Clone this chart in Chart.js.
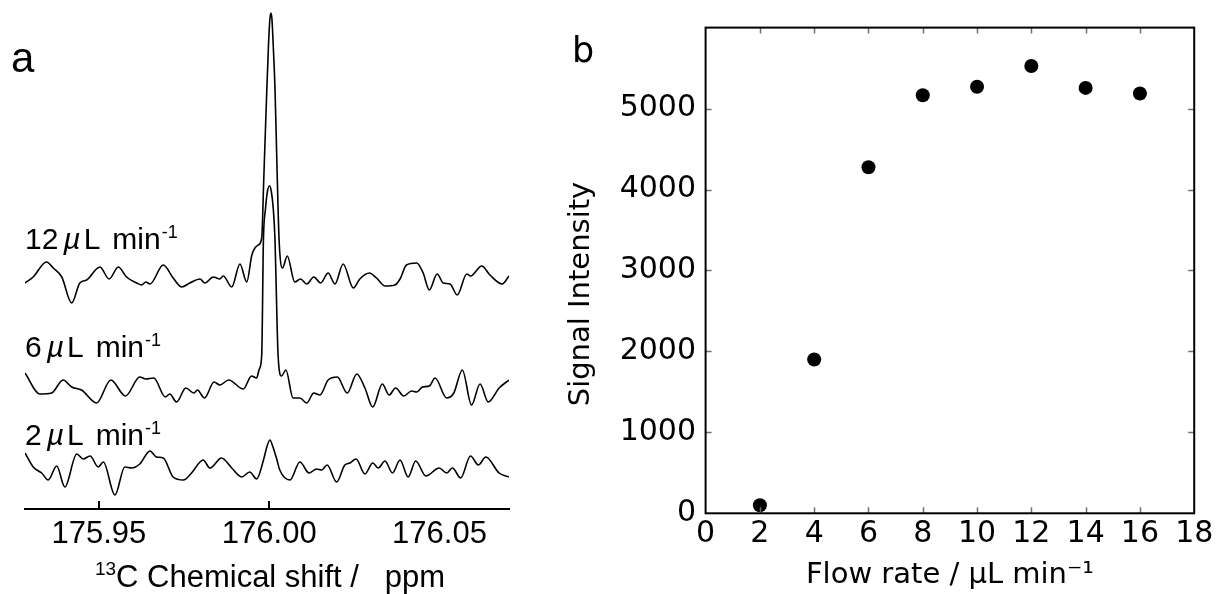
<!DOCTYPE html>
<html><head><meta charset="utf-8">
<script src="https://cdn.jsdelivr.net/npm/chart.js@4.4.1/dist/chart.umd.min.js"></script>
<style>
html,body{margin:0;padding:0;background:#fff;}
#wrap{position:relative;width:1216px;height:594px;overflow:hidden;background:#fff;}
#ca{position:absolute;left:0;top:0;width:545px;height:594px;}
#cb{position:absolute;left:545px;top:0;width:671px;height:594px;}
</style></head><body>
<div id="wrap"><canvas id="ca" width="545" height="594"></canvas><canvas id="cb" width="671" height="594"></canvas></div>
<script>
// ---------- Panel a data: 13C spectra (chemical shift ppm, stacked intensity) ----------
const shiftRange = [175.9283, 176.0704];
const shiftTicks = [175.95, 176.00, 176.05];
const shiftTickMarks = [175.95, 176.00];
const traceRates = ['12', '6', '2'];

const trace12 = [
[175.9283,226],[175.9307,232],[175.9346,247],[175.9366,241],[175.9391,232],[175.9420,206],[175.9444,226],[175.9464,229],
[175.9503,242],[175.9530,230],[175.9557,242],[175.9581,232],[175.9611,226],[175.9625,224],[175.9638,227],[175.9650,225],
[175.9689,244],[175.9718,231],[175.9743,222],[175.9767,226],[175.9797,230],[175.9811,226],[175.9836,232],[175.9855,230],
[175.9865,233],[175.9890,222],[175.9914,245],[175.9934,227],[175.9949,254],[175.9958,261],[175.9968,264],[175.9978,271],
[175.9984,330],[175.9992,410],[175.9998,465],[176.0002,490],[176.0005,496],[176.0008,490],[176.0012,462],[176.0017,420],
[176.0023,340],[176.0029,269],[176.0039,241],[176.0053,253],[176.0075,227],[176.0092,230],[176.0110,225],[176.0131,232],
[176.0151,226],[176.0173,236],[176.0193,225],[176.0217,245],[176.0247,221],[176.0266,230],[176.0294,236],[176.0315,231],
[176.0340,223],[176.0369,224],[176.0384,230],[176.0403,244],[176.0433,246],[176.0452,236],[176.0470,219],[176.0493,235],
[176.0511,226],[176.0531,225],[176.0552,214],[176.0580,235],[176.0591,233],[176.0624,243],[176.0648,234],[176.0684,225],
[176.0704,233]
];
const trace6 = [
[175.9283,136],[175.9327,115],[175.9361,116],[175.9395,129],[175.9420,122],[175.9449,119],[175.9493,106],[175.9535,129],
[175.9578,113],[175.9620,132],[175.9638,130],[175.9661,131],[175.9695,112],[175.9708,115],[175.9728,107],[175.9755,121],
[175.9779,116],[175.9789,119],[175.9810,111],[175.9838,127],[175.9855,124],[175.9881,129],[175.9924,120],[175.9948,133],
[175.9963,131],[175.9971,140],[175.9978,154],[175.9983,269],[175.9989,300],[175.9995,318],[176.0001,323],[176.0006,318],
[176.0012,300],[176.0017,269],[176.0020,229],[176.0026,154],[176.0036,133],[176.0049,139],[176.0070,111],[176.0090,111],
[176.0110,106],[176.0131,116],[176.0149,114],[176.0173,129],[176.0200,132],[176.0229,116],[176.0257,135],[176.0281,121],
[176.0304,102],[176.0332,125],[176.0352,114],[176.0371,121],[176.0395,113],[176.0418,118],[176.0433,117],[176.0450,122],
[176.0470,123],[176.0487,131],[176.0521,111],[176.0542,116],[176.0567,139],[176.0594,104],[176.0619,125],[176.0643,107],
[176.0675,121],[176.0704,129]
];
const trace2 = [
[175.9283,56],[175.9307,42],[175.9332,36],[175.9351,29],[175.9376,43],[175.9400,22],[175.9435,55],[175.9454,50],
[175.9474,53],[175.9498,42],[175.9513,47],[175.9547,14],[175.9576,42],[175.9596,41],[175.9620,45],[175.9650,58],
[175.9669,52],[175.9689,51],[175.9718,32],[175.9748,29],[175.9772,36],[175.9806,49],[175.9826,41],[175.9860,51],
[175.9890,41],[175.9919,32],[175.9943,37],[175.9963,30],[175.9984,50],[175.9993,62],[176.0002,69],[176.0011,62],
[176.0022,50],[176.0031,39],[176.0061,29],[176.0090,47],[176.0117,36],[176.0139,40],[176.0154,39],[176.0170,44],
[176.0198,27],[176.0222,44],[176.0237,46],[176.0255,50],[176.0281,35],[176.0304,46],[176.0320,41],[176.0340,48],
[176.0362,36],[176.0384,49],[176.0408,32],[176.0430,48],[176.0460,33],[176.0499,41],[176.0521,36],[176.0538,41],
[176.0562,31],[176.0591,53],[176.0614,44],[176.0636,52],[176.0675,36],[176.0704,32]
];

// ---------- Panel b data ----------
const flowRates = [2, 4, 6, 8, 10, 12, 14, 16];
const signalIntensity = [100, 1900, 4275, 5165, 5270, 5525, 5255, 5185];
const flowRange = [0, 18];
const intensityRange = [0, 6000];

const FA = '"Liberation Sans", Arial, Helvetica, sans-serif';
const FB = '"DejaVu Sans", Verdana, sans-serif';

function toXY(arr){ return arr.map(p => ({x: p[0], y: p[1]})); }

function drawRateLabel(ctx, rate, x0, yb){
  let xx = x0;
  ctx.font = '30px ' + FA;
  ctx.fillText(rate, xx, yb); xx += ctx.measureText(rate).width + 5;
  ctx.font = 'italic 30px ' + FA;
  ctx.fillText('\u00b5', xx, yb); xx += ctx.measureText('\u00b5').width + 3;
  ctx.font = '30px ' + FA;
  ctx.fillText('L', xx, yb); xx += ctx.measureText('L').width + 12;
  ctx.fillText('min', xx, yb); xx += ctx.measureText('min').width + 1;
  ctx.font = '18px ' + FA;
  ctx.fillText('-1', xx, yb - 11);
}

const panelAPlugin = {
  id: 'panelA',
  afterDraw(chart){
    const {ctx, chartArea, scales} = chart;
    const x = scales.x;
    ctx.save();
    ctx.strokeStyle = '#000'; ctx.lineWidth = 2;
    shiftTickMarks.forEach(v => {
      const px = Math.round(x.getPixelForValue(v));
      ctx.beginPath(); ctx.moveTo(px, chartArea.bottom); ctx.lineTo(px, chartArea.bottom - 8); ctx.stroke();
    });
    ctx.fillStyle = '#000'; ctx.textAlign = 'left'; ctx.textBaseline = 'alphabetic';
    ctx.font = '42px ' + FA;
    ctx.fillText('a', 11, 72);
    const baselines = [249, 357, 445];
    traceRates.forEach((r, i) => drawRateLabel(ctx, r, chartArea.left, baselines[i]));
    // x-axis title with real superscript
    const sup = '13', main = 'C Chemical shift /   ppm';
    ctx.font = '19px ' + FA; const ws = ctx.measureText(sup).width;
    ctx.font = '31px ' + FA; const wm = ctx.measureText(main).width;
    const cx = (chartArea.left + chartArea.right) / 2 + 3;
    let tx = cx - (ws + wm) / 2;
    ctx.font = '19px ' + FA; ctx.fillText(sup, tx, 575);
    ctx.font = '31px ' + FA; ctx.fillText(main, tx + ws, 587);
    ctx.restore();
  }
};

new Chart(document.getElementById('ca'), {
  type: 'scatter',
  data: { datasets: [trace12, trace6, trace2].map((t, i) => ({
    label: traceRates[i] + ' \u00b5L min-1',
    data: toXY(t), showLine: true, borderColor: '#000', borderWidth: 1.6,
    pointRadius: 0, cubicInterpolationMode: 'monotone', fill: false
  })) },
  options: {
    responsive: false, animation: false, devicePixelRatio: 1,
    layout: { padding: { left: 25, right: 36, top: 5, bottom: 0 } },
    plugins: { legend: { display: false }, tooltip: { enabled: false } },
    scales: {
      x: {
        type: 'linear', min: shiftRange[0], max: shiftRange[1],
        afterBuildTicks(s){ s.ticks = shiftTicks.map(v => ({value: v})); },
        afterFit(s){ s.height = 85; },
        ticks: { autoSkip: false, maxRotation: 0, padding: 6.6, color: '#000', font: { family: FA, size: 31 },
                 callback: v => Number(v).toFixed(2) },
        grid: { display: false, drawTicks: false },
        border: { display: true, color: '#000', width: 2 },
        title: { display: false }
      },
      y: { display: false, min: 0, max: 504 }
    }
  },
  plugins: [panelAPlugin]
});

const panelBPlugin = {
  id: 'panelB',
  afterDraw(chart){
    const {ctx, chartArea: ca, scales} = chart;
    ctx.save();
    ctx.strokeStyle = '#707070'; ctx.lineWidth = 1.5;
    scales.x.ticks.forEach(t => {
      if (t.value <= flowRange[0] || t.value >= flowRange[1]) return;
      const px = Math.round(scales.x.getPixelForValue(t.value)) + 0.5;
      ctx.beginPath(); ctx.moveTo(px, ca.bottom); ctx.lineTo(px, ca.bottom - 6);
      ctx.moveTo(px, ca.top); ctx.lineTo(px, ca.top + 6); ctx.stroke();
    });
    scales.y.ticks.forEach(t => {
      if (t.value <= intensityRange[0] || t.value >= intensityRange[1]) return;
      const py = Math.round(scales.y.getPixelForValue(t.value)) + 0.5;
      ctx.beginPath(); ctx.moveTo(ca.left, py); ctx.lineTo(ca.left + 6, py);
      ctx.moveTo(ca.right, py); ctx.lineTo(ca.right - 6, py); ctx.stroke();
    });
    ctx.strokeStyle = '#000'; ctx.lineWidth = 2;
    ctx.strokeRect(ca.left, ca.top, ca.right - ca.left, ca.bottom - ca.top);
    ctx.fillStyle = '#000'; ctx.textAlign = 'left'; ctx.textBaseline = 'alphabetic';
    ctx.font = '35px ' + FB;
    ctx.fillText('b', 27, 62);
    ctx.translate(36, 294); ctx.rotate(-Math.PI / 2);
    ctx.textAlign = 'center'; ctx.textBaseline = 'middle';
    ctx.font = '29px ' + FB;
    ctx.fillText('Signal Intensity', 0, 0);
    ctx.restore();
  }
};

new Chart(document.getElementById('cb'), {
  type: 'scatter',
  data: { datasets: [{
    label: 'Signal Intensity',
    data: flowRates.map((f, i) => ({x: f, y: signalIntensity[i]})),
    pointRadius: 7, pointBackgroundColor: '#000', pointBorderWidth: 0, showLine: false
  }] },
  options: {
    responsive: false, animation: false, devicePixelRatio: 1,
    layout: { padding: { left: 0, right: 21, top: 26, bottom: 0 } },
    plugins: { legend: { display: false }, tooltip: { enabled: false } },
    scales: {
      x: {
        type: 'linear', min: flowRange[0], max: flowRange[1],
        afterFit(s){ s.height = 80.7; },
        ticks: { stepSize: 2, autoSkip: false, maxRotation: 0, padding: 2.7, color: '#000', font: { family: FB, size: 30 } },
        grid: { display: false, drawTicks: false },
        border: { display: false },
        title: { display: true, text: 'Flow rate / \u00b5L min\u207b\u00b9', color: '#000',
                 font: { family: FB, size: 29 }, padding: { top: 0, bottom: 1.6 } }
      },
      y: {
        type: 'linear', min: intensityRange[0], max: intensityRange[1],
        afterFit(s){ s.width = 160.6; },
        ticks: { stepSize: 1000, autoSkip: false, padding: 9.6, color: '#000', font: { family: FB, size: 30 },
                 callback: v => (v >= intensityRange[1] ? '' : String(v)) },
        grid: { display: false, drawTicks: false },
        border: { display: false },
        title: { display: false }
      }
    }
  },
  plugins: [panelBPlugin]
});
</script>
</body></html>
